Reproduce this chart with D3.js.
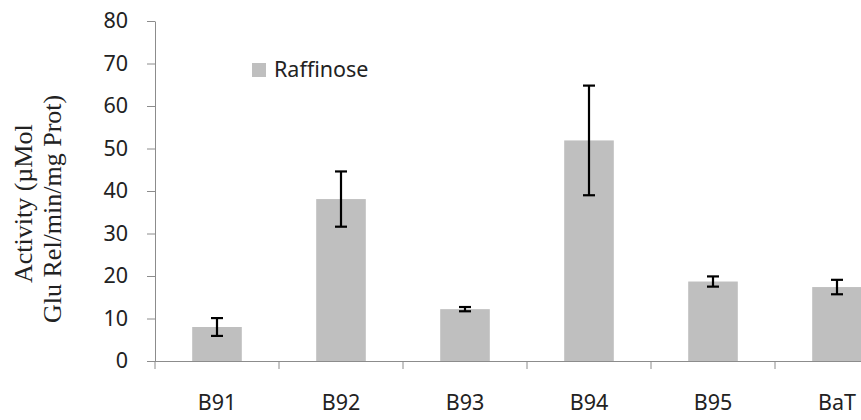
<!DOCTYPE html>
<html><head><meta charset="utf-8">
<script src="https://cdn.jsdelivr.net/npm/d3@7"></script>
<style>body{margin:0;background:#fff}svg{display:block}</style>
</head><body>
<svg id="c" width="861" height="420"></svg>
<script>
const categories = ["B91","B92","B93","B94","B95","BaT"];
const values = [8.0, 38.1, 12.2, 51.9, 18.7, 17.4];
const errors = [2.1, 6.5, 0.5, 12.9, 1.2, 1.7];
const yTicks = [0,10,20,30,40,50,60,70,80];
const seriesName = "Raffinose";
const yTitleLines = ["Activity (µMol", "Glu Rel/min/mg Prot)"];

const svg = d3.select("#c");
const x0 = 155, bandW = 124;
const x = d3.scaleBand().domain(categories).range([x0, x0 + bandW*categories.length]).paddingInner(0).paddingOuter(0);
const y = d3.scaleLinear().domain([0,80]).range([361,21]);
const axisColor = "#8c8c8c";
const barColor = "#bfbfbf";
const barW = bandW*0.4;
const sans = "'Noto Sans', sans-serif";
const fs = 21.5;

// bars
svg.append("g").selectAll("rect").data(categories).join("rect")
  .attr("x", d => x(d) + (bandW-barW)/2)
  .attr("y", (d,i) => y(values[i]))
  .attr("width", barW)
  .attr("height", (d,i) => y(0) - y(values[i]))
  .attr("fill", barColor);

// error bars
const eg = svg.append("g").attr("stroke","#000").attr("stroke-width",2.2);
categories.forEach((c,i) => {
  const cx = x(c) + bandW/2;
  const t = y(values[i]+errors[i]), b = y(values[i]-errors[i]);
  eg.append("line").attr("x1",cx).attr("x2",cx).attr("y1",t).attr("y2",b);
  eg.append("line").attr("x1",cx-6).attr("x2",cx+6).attr("y1",t).attr("y2",t);
  eg.append("line").attr("x1",cx-6).attr("x2",cx+6).attr("y1",b).attr("y2",b);
});

// y axis
const ya = svg.append("g").attr("transform",`translate(${x0},0)`)
  .call(d3.axisLeft(y).tickValues(yTicks).tickSize(8).tickSizeOuter(0).tickPadding(19));
ya.select(".domain").attr("stroke",axisColor);
ya.selectAll(".tick line").attr("stroke",axisColor);
ya.selectAll(".tick text").attr("font-family",sans).attr("font-size",fs).attr("fill","#222");

// x axis
const xa = svg.append("g").attr("transform",`translate(0,${y(0)})`)
  .call(d3.axisBottom(x).tickSize(0).tickPadding(34));
xa.select(".domain").attr("stroke",axisColor).attr("d",`M${x0},0.5H861`);
xa.selectAll(".tick text").attr("font-family",sans).attr("font-size",fs).attr("fill","#222");
// boundary ticks
svg.append("g").selectAll("line").data(categories).join("line")
  .attr("x1", d => x(d)).attr("x2", d => x(d))
  .attr("y1", y(0)).attr("y2", y(0)+8)
  .attr("stroke", axisColor);

// legend
svg.append("rect").attr("x",252).attr("y",63).attr("width",14).attr("height",14).attr("fill",barColor);
svg.append("text").attr("x",274).attr("y",77).text(seriesName)
  .attr("font-family",sans).attr("font-size",fs).attr("fill","#222");

// y title
const yt = svg.append("text").attr("transform","rotate(-90)")
  .attr("font-family","'Liberation Serif', 'Times New Roman', serif")
  .attr("font-size",26).attr("fill","#222");
yt.append("tspan").attr("x",-283).attr("y",32).text(yTitleLines[0]);
yt.append("tspan").attr("x",-323).attr("y",61).text(yTitleLines[1]);
</script>
</body></html>
